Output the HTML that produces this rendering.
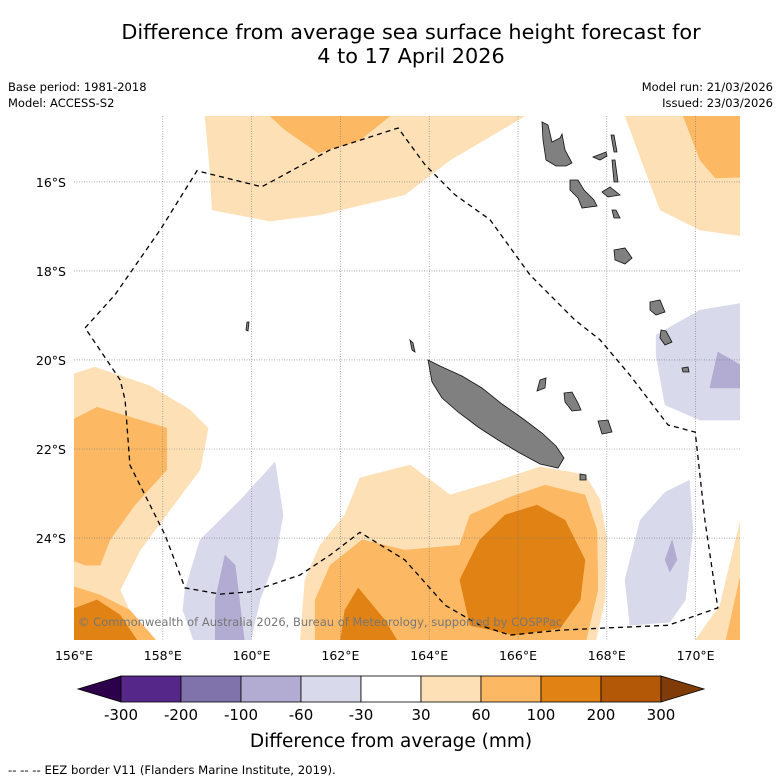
<!DOCTYPE html>
<html><head><meta charset="utf-8">
<style>
body{margin:0;background:#fff;}
svg{display:block;font-family:"DejaVu Sans","Liberation Sans",sans-serif;}
</style></head>
<body>
<svg id="chart" width="781" height="781" viewBox="0 0 781 781">
<text x="411" y="39" font-size="20.8" text-anchor="middle">Difference from average sea surface height forecast for</text>
<text x="411" y="63" font-size="20.8" text-anchor="middle">4 to 17 April 2026</text>
<text x="8" y="91" font-size="11.5">Base period: 1981-2018</text>
<text x="8" y="107" font-size="11.5">Model: ACCESS-S2</text>
<text x="773" y="91" font-size="11.5" text-anchor="end">Model run: 21/03/2026</text>
<text x="773" y="107" font-size="11.5" text-anchor="end">Issued: 23/03/2026</text>
<defs><clipPath id="mapclip"><rect x="74" y="116" width="666" height="524"/></clipPath></defs>
<g id="contours" clip-path="url(#mapclip)"></g>
<g id="grid"></g>
<g id="islands" clip-path="url(#mapclip)"></g>
<g id="eez" clip-path="url(#mapclip)"></g>
<text x="78" y="626" font-size="11.5" fill="#777">© Commonwealth of Australia 2026, Bureau of Meteorology, supported by COSPPac</text>
<g id="axes"></g>
<g id="colorbar"></g>
<text x="391" y="747" font-size="18.5" text-anchor="middle">Difference from average (mm)</text>
<text x="8" y="774" font-size="11.7">--  --  -- EEZ border V11 (Flanders Marine Institute, 2019).</text>
</svg>
<script>
const lonTicks=[156,158,160,162,164,166,168,170];
const latTicks=[-16,-18,-20,-22,-24];
const cbLevels=[-300,-200,-100,-60,-30,30,60,100,200,300];
const cbColors=["#542788","#8073ac","#b2abd2","#d8daeb","#ffffff","#fee0b6","#fdb863","#e08214","#b35806"];
const lowColor="#2d004b", highColor="#7f3b08";
const topLight=[[158.95,-14.52],[166.16,-14.52],[164.47,-15.51],[163.45,-16.29],[161.54,-16.74],[160.41,-16.88],[159.11,-16.63],[159.06,-15.73]];
const topMid=[[160.41,-14.52],[163.12,-14.52],[162.44,-15.06],[161.5,-15.35],[160.75,-14.83]];
const trLight=[[168.41,-14.52],[171.2,-14.52],[171.2,-17.24],[170.1,-17.08],[169.2,-16.63],[168.86,-15.73]];
const trMid=[[169.72,-14.52],[171.2,-14.52],[171.2,-15.89],[170.44,-15.91],[170.1,-15.51]];
const leftLight=[[155.9,-20.34],[156.47,-20.16],[157.71,-20.58],[158.61,-21.12],[159.02,-21.53],[158.84,-22.47],[158.16,-23.37],[157.49,-24.27],[157.04,-25.17],[157.6,-26.4],[155.9,-26.4]];
const leftMid=[[155.95,-21.35],[156.52,-21.06],[158.09,-21.53],[158.09,-22.47],[157.37,-23.26],[156.81,-24.04],[156.59,-24.61],[156.25,-24.61],[155.95,-24.49]];
const leftMid2=[[155.9,-25.06],[156.59,-25.28],[157.26,-25.62],[157.94,-26.4],[155.9,-26.4]];
const leftDark=[[155.9,-25.62],[156.52,-25.39],[157.04,-25.73],[157.49,-26.4],[155.9,-26.4]];
const botLight=[[162.44,-22.65],[163.57,-22.36],[164.47,-23.03],[165.59,-22.7],[166.5,-22.4],[167.51,-22.58],[167.85,-23.15],[168.0,-24.04],[167.96,-25.39],[167.73,-26.4],[161.09,-26.4],[161.2,-24.94],[161.54,-24.16],[162.1,-23.48]];
const botMid=[[161.43,-25.39],[161.77,-24.61],[162.49,-24.04],[163.45,-24.27],[164.69,-24.16],[164.92,-23.48],[165.82,-23.08],[166.61,-22.81],[167.51,-23.03],[167.78,-23.82],[167.8,-25.17],[167.51,-26.4],[161.43,-26.4]];
const botDark=[[164.69,-24.94],[165.14,-24.04],[165.71,-23.48],[166.43,-23.26],[167.06,-23.6],[167.51,-24.49],[167.4,-25.39],[166.95,-26.02],[165.93,-26.18],[164.92,-25.96]];
const botDark2=[[161.99,-26.4],[162.1,-25.62],[162.4,-25.12],[163.0,-25.84],[163.34,-26.4]];
const lavLeft=[[158.5,-25.17],[158.84,-24.04],[159.74,-23.15],[160.53,-22.29],[160.71,-23.48],[160.53,-24.49],[160.19,-25.39],[159.96,-26.4],[158.73,-26.4],[158.45,-25.62]];
const lavLeftIn=[[159.18,-25.39],[159.4,-24.38],[159.63,-24.61],[159.85,-26.4],[159.18,-26.4]];
const lavRight=[[168.41,-24.94],[168.75,-23.6],[169.31,-22.97],[169.86,-22.7],[169.94,-23.82],[169.77,-25.39],[169.42,-25.89],[168.52,-25.96]];
const lavRightIn=[[169.31,-24.49],[169.47,-24.04],[169.58,-24.49],[169.42,-24.76]];
const lavTop=[[169.11,-19.44],[170.1,-18.88],[171.2,-18.7],[171.2,-21.35],[170.1,-21.35],[169.31,-21.01],[169.11,-19.9]];
const lavTopIn=[[170.32,-20.63],[170.5,-19.82],[171.2,-20.22],[171.2,-20.63]];
const brLight=[[169.92,-26.4],[170.55,-25.51],[171.2,-22.8],[171.2,-26.4]];
const brMid=[[170.66,-26.4],[171.2,-24.0],[171.2,-26.4]];
const eezLine=[[156.25,-19.28],[156.92,-18.54],[157.94,-17.08],[158.77,-15.75],[160.23,-16.11],[161.77,-15.28],[163.3,-14.79],[163.91,-15.62],[164.58,-16.29],[165.37,-16.85],[166.27,-18.09],[167.28,-19.1],[167.85,-19.55],[168.52,-20.34],[169.38,-21.46],[169.99,-21.62],[170.21,-23.6],[170.5,-25.57],[169.38,-25.96],[167.96,-26.02],[166.95,-26.07],[165.82,-26.18],[165.14,-25.96],[164.36,-25.51],[163.45,-24.49],[162.44,-23.87],[161.77,-24.38],[161.09,-24.83],[159.96,-25.21],[159.29,-25.26],[158.5,-25.12],[158.05,-23.93],[157.26,-22.36],[157.15,-20.9],[157.04,-20.45],[156.25,-19.28]];
const layers=[[topLight,5],[topMid,6],[trLight,5],[trMid,6],[leftLight,5],[leftMid,6],[leftMid2,6],[leftDark,7],[botLight,5],[botMid,6],[botDark,7],[botDark2,7],[lavLeft,3],[lavLeftIn,2],[lavRight,3],[lavRightIn,2],[lavTop,3],[lavTopIn,2],[brLight,5],[brMid,6]];

const X0=74,X1=740,LON0=156,LON1=171,Y0=116,Y1=640,LAT0=-14.52,LAT1=-26.29;
const xs=lon=>X0+(lon-LON0)*(X1-X0)/(LON1-LON0);
const ys=lat=>Y0+(lat-LAT0)*(Y1-Y0)/(LAT1-LAT0);
const NS="http://www.w3.org/2000/svg";
function mk(t,a,p){const e=document.createElementNS(NS,t);for(const k in a)e.setAttribute(k,a[k]);p.appendChild(e);return e;}
const pts=arr=>arr.map(p=>xs(p[0]).toFixed(1)+","+ys(p[1]).toFixed(1)).join(" ");

const cg=document.getElementById('contours');
layers.forEach(([poly,ci])=>{
  const e=mk('polygon',{points:pts(poly),fill:cbColors[ci],stroke:cbColors[ci],'stroke-width':0.5},cg);
  
  
});

const gg=document.getElementById('grid');
lonTicks.slice(1).forEach(l=>{const e=mk('line',{x1:xs(l),x2:xs(l),y1:Y0,y2:Y1,stroke:'#777','stroke-width':0.6,'stroke-dasharray':'1,1.5'},gg);
  });
latTicks.forEach(l=>{const e=mk('line',{x1:X0,x2:X1,y1:ys(l),y2:ys(l),stroke:'#777','stroke-width':0.6,'stroke-dasharray':'1,1.5'},gg);
  });

const ig=document.getElementById('islands');
const isl=["M428,360 L440,366 L462,376 L482,388 L502,404 L522,418 L542,433 L556,446 L564,458 L558,468 L540,464 L518,452 L498,440 L478,427 L458,412 L442,398 L432,382 Z",
"M542,122 L548,125 L552,142 L560,138 L562,134 L565,150 L572,163 L566,166 L556,166 L546,160 L543,140 Z",
"M570,180 L578,180 L584,190 L594,200 L597,206 L582,208 L578,198 L570,190 Z",
"M593,157 L606,152 L607,156 L600,160 Z","M611,135 L614,135 L617,152 L614,152 Z","M612,160 L615,160 L618,182 L614,182 Z",
"M602,192 L610,187 L620,195 L608,197 Z","M612,210 L616,210 L620,218 L614,218 Z","M614,250 L625,248 L632,258 L625,264 L615,260 Z",
"M650,302 L660,300 L665,312 L656,315 L650,310 Z","M661,330 L666,331 L672,342 L665,345 L660,338 Z","M682,368 L688,367 L689,372 L683,372 Z",
"M564,393 L572,392 L578,403 L581,410 L572,411 L565,402 Z","M598,421 L608,420 L612,432 L602,434 Z","M540,380 L546,378 L545,388 L537,391 Z",
"M580,474 L586,475 L586,480 L580,480 Z","M410,340 L413,343 L415,352 L412,350 Z","M247,322 L249,322 L248,331 L246,330 Z"];
isl.forEach(d=>{const e=mk('path',{d:d,fill:'#808080',stroke:'#111','stroke-width':0.8},ig);
  });

const eg=document.getElementById('eez');
const el=mk('polyline',{points:pts(eezLine),fill:'none',stroke:'#000','stroke-width':1.3,'stroke-dasharray':'5,4'},eg);



const ag=document.getElementById('axes');
lonTicks.forEach(l=>{const t=mk('text',{x:xs(l),y:660,'font-size':12.5,'text-anchor':'middle'},ag);t.textContent=l+'°E';
  });
latTicks.forEach(l=>{const t=mk('text',{x:66,y:ys(l)+5,'font-size':12.5,'text-anchor':'end'},ag);t.textContent=(-l)+'°S';
  });

const cb=document.getElementById('colorbar');
const CB0=121,CBW=60,CBY=676,CBH=26;
const lt=mk('polygon',{points:`${CB0},${CBY} 78,${CBY+CBH/2} ${CB0},${CBY+CBH}`,fill:lowColor,stroke:'#000','stroke-width':0.8},cb);

cbColors.forEach((c,i)=>{const r=mk('rect',{x:CB0+i*CBW,y:CBY,width:CBW,height:CBH,fill:c,stroke:'#000','stroke-width':0.8},cb);
  });
const xe=CB0+cbColors.length*CBW;
const ht=mk('polygon',{points:`${xe},${CBY} ${xe+43},${CBY+CBH/2} ${xe},${CBY+CBH}`,fill:highColor,stroke:'#000','stroke-width':0.8},cb);

cbLevels.forEach((v,i)=>{const t=mk('text',{x:CB0+i*CBW,y:720,'font-size':15,'text-anchor':'middle'},cb);t.textContent=v;
  });
</script>
</body></html>
